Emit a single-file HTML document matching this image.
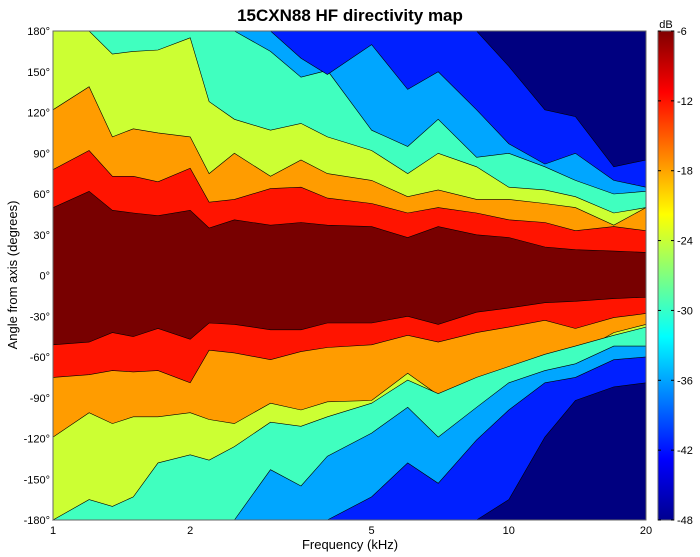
<!DOCTYPE html>
<html><head><meta charset="utf-8"><style>
html,body{margin:0;padding:0;background:#fff;}
svg{display:block;font-family:"Liberation Sans",Arial,sans-serif;}
</style></head><body>
<svg id="chart" width="700" height="557" viewBox="0 0 700 557" xmlns="http://www.w3.org/2000/svg">
<text x="350" y="21" text-anchor="middle" font-size="17" font-weight="bold">15CXN88 HF directivity map</text>
<g id="plot"></g>
<g id="axes"></g>
<text x="350" y="549" text-anchor="middle" font-size="13">Frequency (kHz)</text>
<text transform="translate(17,275) rotate(-90)" text-anchor="middle" font-size="13">Angle from axis (degrees)</text>
<defs><linearGradient id="jet" x1="0" y1="1" x2="0" y2="0">
<stop offset="0" stop-color="#00008f"/><stop offset="0.125" stop-color="#0000ff"/><stop offset="0.375" stop-color="#00ffff"/><stop offset="0.625" stop-color="#ffff00"/><stop offset="0.875" stop-color="#ff0000"/><stop offset="1" stop-color="#800000"/></linearGradient></defs>
<g id="cbar"></g>
</svg>
<script>
const freqs = [1,1.2,1.35,1.5,1.7,2,2.2,2.5,3,3.5,4,5,6,7,8.5,10,12,14,17,20];
// upper-half contour boundary angles (deg), one array per level
const up1 = [50,62,48,46,44,48,35,41,37,39,37,36,28,36,30,28,21,19,18,17];
const up2 = [78,92,73,73,69,79,54,56,64,65,57,53,46,50,46,41,39,33,36,33];
const up3 = [122,139,102,108,105,102,75,90,73,85,75,70,58,63,56,56,53,50,37,50];
const up4 = [181,181,163,165,166,175,128,115,107,112,102,92,75,90,80,65,63,58,46,50];
const up5 = [181,181,181,181,181,181,181,181,165,146,151,107,95,115,87,90,80,70,60,62];
const up6 = [181,181,181,181,181,181,181,181,181,160,148,170,137,150,122,97,82,90,70,65];
const up7 = [181,181,181,181,181,181,181,181,181,181,181,181,181,181,181,154,122,117,80,85];
// lower-half contour boundary angles (magnitude, deg)
const lo1 = [51,49,42,45,39,47,35,36,40,40,35,35,30,36,27,24,20,19,17,16];
const lo2 = [75,73,70,71,70,79,55,57,62,56,53,51,44,49,42,38,33,39,31,28];
const lo3 = [119,101,109,104,104,101,106,109,94,99,93,92,72,88,77,77,64,58,42,36];
const lo4 = [181,165,170,163,138,132,136,126,108,111,104,94,77,87,75,67,58,52,44,38];
const lo5 = [181,181,181,181,181,181,181,181,143,155,133,116,97,119,97,79,70,65,52,52];
const lo6 = [181,181,181,181,181,181,181,181,181,181,181,163,138,153,121,99,79,75,62,60];
const lo7 = [181,181,181,181,181,181,181,181,181,181,181,181,181,181,181,165,119,92,82,79];
const bandColors = ['#780000','#ff1400','#ff9c00','#ccff33','#40ffbf','#00a6ff','#0020ff','#000080'];
const yTicks = [180,150,120,90,60,30,0,-30,-60,-90,-120,-150,-180];
const xTicks = [1,2,5,10,20];
const cTicks = [-6,-12,-18,-24,-30,-36,-42,-48];

const X0=53,X1=646,Y0=31,Y1=520;
const NS='http://www.w3.org/2000/svg';
const xs = f => X0 + (X1-X0)*Math.log(f)/Math.log(20);
const ys = a => Y0 + (Y1-Y0)*(180-a)/360;
function mk(tag, attrs, parent){const e=document.createElementNS(NS,tag);for(const k in attrs)e.setAttribute(k,attrs[k]);parent.appendChild(e);return e;}
const plot=document.getElementById('plot');
const bg=mk('rect',{x:X0,y:Y0,width:X1-X0,height:Y1-Y0,fill:bandColors[0]},plot);


const ups=[up1,up2,up3,up4,up5,up6,up7], los=[lo1,lo2,lo3,lo4,lo5,lo6,lo7];
for(let k=0;k<7;k++){
  const cl = v => Math.min(180,v);
  let pu = freqs.map((f,i)=>xs(f).toFixed(1)+','+ys(cl(ups[k][i])).toFixed(1));
  let pathU = 'M'+xs(1)+','+ys(180)+' L'+pu.join(' L')+' L'+xs(20)+','+ys(180)+'Z';
  const a=mk('path',{d:pathU,fill:bandColors[k+1],stroke:'#000','stroke-width':0.6},plot);
  
  
  let pl = freqs.map((f,i)=>xs(f).toFixed(1)+','+ys(-cl(los[k][i])).toFixed(1));
  let pathL = 'M'+xs(1)+','+ys(-180)+' L'+pl.join(' L')+' L'+xs(20)+','+ys(-180)+'Z';
  const b=mk('path',{d:pathL,fill:bandColors[k+1],stroke:'#000','stroke-width':0.6},plot);
  
  
}
const axes=document.getElementById('axes');
const fr=mk('rect',{x:X0,y:Y0,width:X1-X0,height:Y1-Y0,fill:'none',stroke:'#666','stroke-width':1},axes);


yTicks.forEach(a=>{
  const t=mk('text',{x:X0-3,y:ys(a)+4,'text-anchor':'end','font-size':11},axes);
  t.textContent=a+'°';
  
  
});
xTicks.forEach(f=>{
  const t=mk('text',{x:xs(f),y:Y1+14,'text-anchor':'middle','font-size':11},axes);
  t.textContent=f;
  
  
});
const cb=document.getElementById('cbar');
const CX=658,CW=16;
const cr=mk('rect',{x:CX,y:Y0,width:CW,height:Y1-Y0,fill:'url(#jet)',stroke:'#666','stroke-width':1},cb);


const cy = v => Y0 + (Y1-Y0)*(-6-v)/42;
cTicks.forEach(v=>{
  mk('line',{x1:CX,x2:CX+3,y1:cy(v),y2:cy(v),stroke:'#000','stroke-width':1},cb);
  mk('line',{x1:CX+CW-3,x2:CX+CW,y1:cy(v),y2:cy(v),stroke:'#000','stroke-width':1},cb);
  const t=mk('text',{x:CX+CW+3,y:cy(v)+4,'font-size':11},cb);
  t.textContent=v;
  
  
});
const db=mk('text',{x:CX+8,y:Y0-3,'text-anchor':'middle','font-size':11},cb);
db.textContent='dB';


</script>
</body></html>
